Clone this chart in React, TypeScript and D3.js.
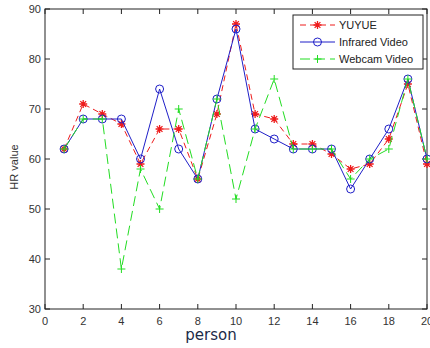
import React, { useEffect, useRef } from "react";
import * as d3 from "d3";

const persons = [1, 2, 3, 4, 5, 6, 7, 8, 9, 10, 11, 12, 13, 14, 15, 16, 17, 18, 19, 20];
const yuyue = [62, 71, 69, 67, 59, 66, 66, 56, 69, 87, 69, 68, 63, 63, 61, 58, 59, 64, 75, 59];
const infrared = [62, 68, 68, 68, 60, 74, 62, 56, 72, 86, 66, 64, 62, 62, 62, 54, 60, 66, 76, 60];
const webcam = [62, 68, 68, 38, 58, 50, 70, 56, 72, 52, 66, 76, 62, 62, 62, 56, 60, 62, 76, 60];
const xTicks = [0, 2, 4, 6, 8, 10, 12, 14, 16, 18, 20];
const yTicks = [30, 40, 50, 60, 70, 80, 90];

const W = 430;
const H = 348;

function App() {
  const ref = useRef<SVGSVGElement | null>(null);

  useEffect(() => {
    const svg = d3.select(ref.current);
    svg.selectAll("*").remove();

    const x = d3.scaleLinear().domain([0, 20]).range([45, 427]);
    const y = d3.scaleLinear().domain([30, 90]).range([309, 9]);
    const font = "'Liberation Sans', Arial, sans-serif";

    svg.append("rect").attr("width", W).attr("height", H).attr("fill", "#fff");

    // frame + ticks (MATLAB box style, ticks pointing in)
    const axisCol = "#222";
    svg
      .append("rect")
      .attr("x", x(0))
      .attr("y", y(90))
      .attr("width", x(20) - x(0))
      .attr("height", y(30) - y(90))
      .attr("fill", "none")
      .attr("stroke", axisCol)
      .attr("stroke-width", 1);

    const tk = svg.append("g").attr("stroke", axisCol).attr("stroke-width", 1);
    xTicks.forEach((t) => {
      tk.append("line").attr("x1", x(t)).attr("x2", x(t)).attr("y1", y(30)).attr("y2", y(30) - 5);
      tk.append("line").attr("x1", x(t)).attr("x2", x(t)).attr("y1", y(90)).attr("y2", y(90) + 5);
    });
    yTicks.forEach((t) => {
      tk.append("line").attr("x1", x(0)).attr("x2", x(0) + 5).attr("y1", y(t)).attr("y2", y(t));
      tk.append("line").attr("x1", x(20)).attr("x2", x(20) - 5).attr("y1", y(t)).attr("y2", y(t));
    });

    svg
      .append("g")
      .selectAll("text")
      .data(xTicks)
      .join("text")
      .attr("x", (d) => x(d))
      .attr("y", y(30) + 16)
      .attr("text-anchor", "middle")
      .attr("font-family", font)
      .attr("font-size", 11)
      .attr("fill", "#333")
      .text((d) => d);

    svg
      .append("g")
      .selectAll("text")
      .data(yTicks)
      .join("text")
      .attr("x", x(0) - 4)
      .attr("y", (d) => y(d) + 4)
      .attr("text-anchor", "end")
      .attr("font-family", font)
      .attr("font-size", 11)
      .attr("fill", "#333")
      .text((d) => d);

    svg
      .append("text")
      .attr("transform", `translate(18,${(y(30) + y(90)) / 2 + 8}) rotate(-90)`)
      .attr("text-anchor", "middle")
      .attr("font-family", font)
      .attr("font-size", 11)
      .attr("fill", "#333")
      .text("HR value");

    svg
      .append("text")
      .attr("x", 211)
      .attr("y", 340)
      .attr("text-anchor", "middle")
      .attr("font-family", "'DejaVu Sans', sans-serif")
      .attr("font-size", 15)
      .attr("fill", "#1c2a48")
      .text("person");

    const line = d3
      .line<number>()
      .x((d, i) => x(persons[i]))
      .y((d) => y(d));

    const series = [
      { name: "YUYUE", values: yuyue, color: "#ee1c1c", dash: "6,4", marker: "star" },
      { name: "Infrared Video", values: infrared, color: "#1f1fc8", dash: null, marker: "circle" },
      { name: "Webcam Video", values: webcam, color: "#22dd22", dash: "10,5", marker: "plus" },
    ];

    const drawMarker = (g: any, type: string, cx: number, cy: number, color: string) => {
      if (type === "circle") {
        g.append("circle").attr("cx", cx).attr("cy", cy).attr("r", 4).attr("fill", "none").attr("stroke", color).attr("stroke-width", 1);
      } else if (type === "plus") {
        g.append("path")
          .attr("d", `M${cx - 4},${cy}H${cx + 4}M${cx},${cy - 4}V${cy + 4}`)
          .attr("stroke", color)
          .attr("stroke-width", 1);
      } else {
        const r = 4;
        const d = r * 0.72;
        g.append("path")
          .attr(
            "d",
            `M${cx - r},${cy}H${cx + r}M${cx},${cy - r}V${cy + r}M${cx - d},${cy - d}L${cx + d},${cy + d}M${cx - d},${cy + d}L${cx + d},${cy - d}`
          )
          .attr("stroke", color)
          .attr("stroke-width", 1.3);
      }
    };

    series.forEach((s) => {
      const g = svg.append("g");
      g.append("path")
        .datum(s.values)
        .attr("d", line)
        .attr("fill", "none")
        .attr("stroke", s.color)
        .attr("stroke-width", 1)
        .attr("stroke-dasharray", s.dash);
      s.values.forEach((v, i) => drawMarker(g, s.marker, x(persons[i]), y(v), s.color));
    });

    // legend
    const lg = svg.append("g");
    lg.append("rect")
      .attr("x", 293)
      .attr("y", 15)
      .attr("width", 130)
      .attr("height", 54)
      .attr("fill", "#fff")
      .attr("stroke", "#222")
      .attr("stroke-width", 1);
    series.forEach((s, i) => {
      const ly = 25 + i * 17;
      lg.append("line")
        .attr("x1", 300)
        .attr("x2", 335)
        .attr("y1", ly)
        .attr("y2", ly)
        .attr("stroke", s.color)
        .attr("stroke-width", 1)
        .attr("stroke-dasharray", s.dash);
      drawMarker(lg, s.marker, 317.5, ly, s.color);
      lg.append("text")
        .attr("x", 339)
        .attr("y", ly + 4)
        .attr("font-family", font)
        .attr("font-size", 11)
        .attr("fill", "#222")
        .text(s.name);
    });
  }, []);

  return (
    <div style={{ position: "absolute", left: 0, top: 0, width: W, height: H }}>
      <svg ref={ref} width={W} height={H} />
    </div>
  );
}

export default App;
